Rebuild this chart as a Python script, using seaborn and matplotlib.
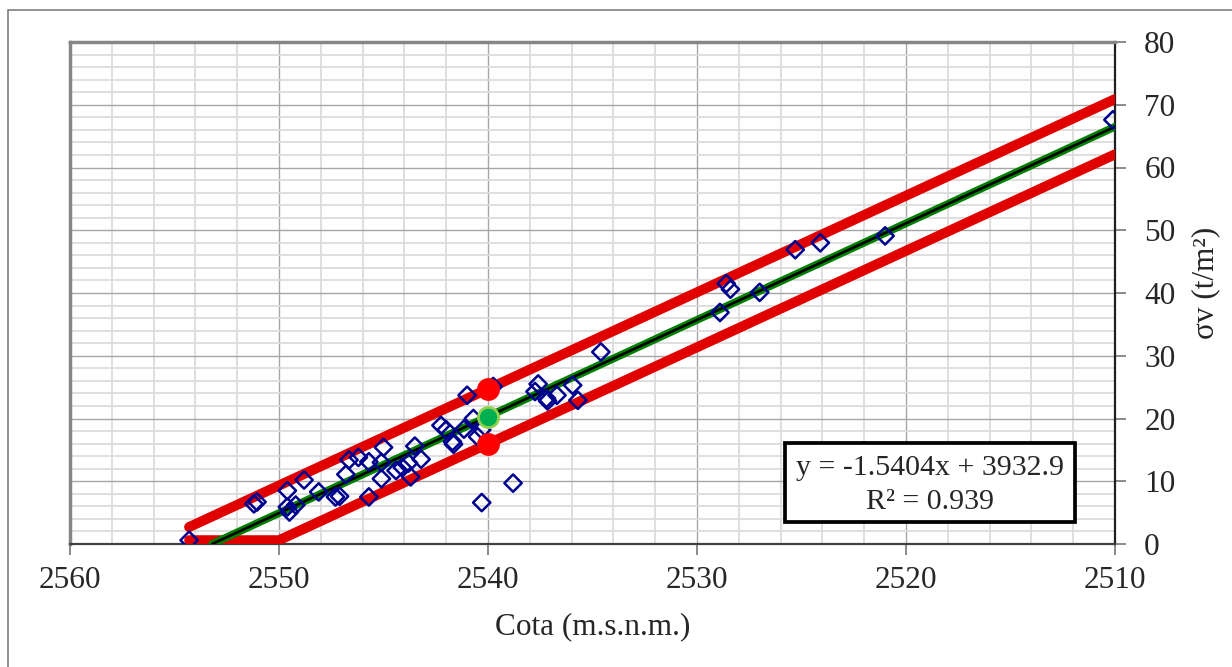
import numpy as np
import pandas as pd
import matplotlib
matplotlib.use("Agg")
import matplotlib.pyplot as plt
import seaborn as sns
from matplotlib.patches import Rectangle
from matplotlib.ticker import MultipleLocator

# ---------------- data ----------------
cota = [2554.3, 2551.2, 2551.05, 2549.6, 2549.6, 2549.5, 2549.2, 2548.8, 2548.1,
        2547.3, 2547.1, 2546.8, 2546.65, 2546.2, 2545.7, 2545.7, 2545.0, 2545.1,
        2545.1, 2544.4, 2544.1, 2543.8, 2543.7, 2543.5, 2543.2, 2542.25, 2542.0,
        2541.7, 2541.65, 2541.15, 2541.0, 2540.7, 2540.5, 2540.3, 2540.3, 2538.8,
        2539.75, 2537.6, 2537.75, 2537.2, 2537.15, 2536.7, 2535.95, 2535.7, 2534.6,
        2528.9, 2528.6, 2528.4, 2527.0, 2525.3, 2524.1, 2521.0, 2510.1]
sigma = [0.6, 6.4, 6.7, 8.5, 5.9, 5.1, 6.2, 10.2, 8.3,
         7.5, 7.6, 11.1, 13.4, 13.8, 13.1, 7.5, 15.4, 13.0,
         10.4, 11.7, 12.2, 12.9, 10.7, 15.6, 13.5, 18.9, 18.2,
         16.3, 15.9, 18.3, 23.7, 20.0, 17.1, 18.2, 6.6, 9.7,
         25.1, 25.5, 24.3, 23.2, 22.8, 23.7, 25.3, 22.9, 30.6,
         36.9, 41.5, 40.6, 40.1, 46.9, 48.0, 49.1, 67.6]

reg_x = [2553.2, 2510.0]
reg_y = [0.0, 66.5]
up_x = [2554.3, 2510.0]
up_y = [2.7, 70.9]
low_x = [2554.3, 2550.0, 2510.0]
low_y = [0.6, 0.6, 62.1]
lim_x = [2540.0, 2540.0]
lim_y = [24.7, 15.9]
mean_x = [2540.0]
mean_y = [20.3]

x_ticks = [2560, 2550, 2540, 2530, 2520, 2510]
y_ticks = [0, 10, 20, 30, 40, 50, 60, 70, 80]
eq_line1 = "y = -1.5404x + 3932.9"
eq_line2 = "R² = 0.939"
x_label = "Cota (m.s.n.m.)"
y_label = "σv (t/m²)"

# ---------------- style ----------------
sns.set_theme(style="white")
plt.rcParams['font.family'] = ['Liberation Serif', 'DejaVu Serif', 'DejaVu Sans']
FS = 22.5
FS_EQ = 21.5

W, H = 1232, 667
fig = plt.figure(figsize=(W / 100, H / 100), dpi=100)
ax = fig.add_axes([70 / W, 1 - 544 / H, 1045 / W, 502 / H])

# outer frame of the chart
fig.patches.append(Rectangle((8 / W, -0.5), 2.0, 1.5 - 10 / H, transform=fig.transFigure,
                             fill=False, edgecolor='#7f7f7f', lw=1.2))

# lines
sns.lineplot(x=up_x, y=up_y, sort=False, estimator=None, color='#e00000', linewidth=7.2,
             solid_capstyle='round', ax=ax, zorder=3)
sns.lineplot(x=low_x, y=low_y, sort=False, estimator=None, color='#e00000', linewidth=7.2,
             solid_capstyle='round', solid_joinstyle='round', ax=ax, zorder=3)
sns.lineplot(x=reg_x, y=reg_y, sort=False, estimator=None, color='#008000', linewidth=5.6,
             ax=ax, zorder=3)
sns.lineplot(x=reg_x, y=reg_y, sort=False, estimator=None, color='black', linewidth=1.9,
             ax=ax, zorder=3.1)

# data points
sns.scatterplot(x=cota, y=sigma, marker='D', s=78, facecolor='none',
                edgecolor='#000090', linewidth=1.8, ax=ax, zorder=4)

# highlighted points
sns.scatterplot(x=lim_x, y=lim_y, marker='o', s=270, color='#ff0000',
                edgecolor='#ff0000', linewidth=0, ax=ax, zorder=5)
sns.scatterplot(x=mean_x, y=mean_y, marker='o', s=210, color='#00b050',
                edgecolor='#92d050', linewidth=2.0, ax=ax, zorder=5)

# axes
ax.set_xlim(2560, 2510)
ax.set_ylim(0, 80)
ax.set_xticks(x_ticks)
ax.set_yticks(y_ticks)
ax.xaxis.set_minor_locator(MultipleLocator(2))
ax.yaxis.set_minor_locator(MultipleLocator(2))
ax.grid(which='major', color='#a6a6a6', lw=1.0)
ax.grid(which='minor', color='#dcdcdc', lw=1.3)
ax.set_axisbelow(True)

ax.yaxis.tick_right()
ax.tick_params(axis='x', which='major', bottom=True, direction='out', length=8,
               width=1.3, color='#808080', pad=8, labelsize=FS)
ax.tick_params(axis='y', which='major', right=True, left=False, labelright=True,
               labelleft=False, direction='out', length=8, width=1.3,
               color='#808080', pad=13, labelsize=FS)
ax.tick_params(which='minor', length=0)

for side, col, lw in [('left', '#868686', 2.5), ('top', '#868686', 2.5),
                      ('right', '#202020', 1.6), ('bottom', '#404040', 1.6)]:
    ax.spines[side].set_visible(True)
    ax.spines[side].set_color(col)
    ax.spines[side].set_linewidth(lw)

ax.set_xlabel(x_label, fontsize=FS)
ax.xaxis.set_label_coords(0.5, -0.135)
ax.yaxis.set_label_position('right')
ax.set_ylabel(y_label, fontsize=FS)
ax.yaxis.set_label_coords(1.073, 0.52)

# equation box
ax.add_patch(Rectangle((0.684, 0.044), 0.278, 0.157, transform=ax.transAxes,
                       facecolor='white', edgecolor='black', lw=2.7, zorder=6))
ax.text(0.823, 0.151, eq_line1, transform=ax.transAxes, ha='center', va='center',
        fontsize=FS_EQ, zorder=7)
ax.text(0.823, 0.084, eq_line2, transform=ax.transAxes, ha='center', va='center',
        fontsize=FS_EQ, zorder=7)

fig.savefig("out.png", dpi=100)
